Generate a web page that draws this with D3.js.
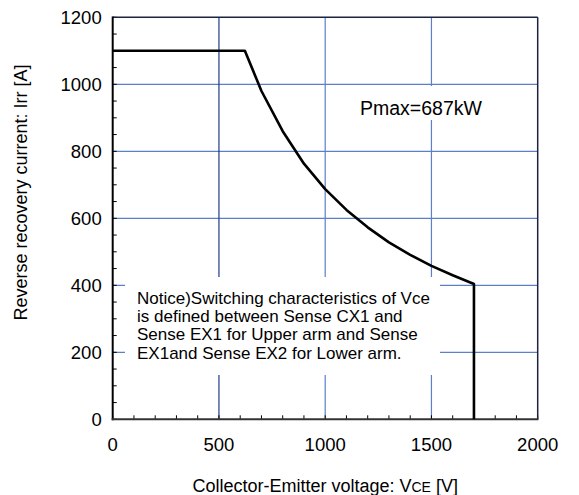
<!DOCTYPE html>
<html><head><meta charset="utf-8">
<script src="https://cdn.jsdelivr.net/npm/d3@7"></script>
<style>body{margin:0;background:#fff}svg{display:block;font-family:"Liberation Sans",Arial,sans-serif}</style>
</head><body><svg id="c" width="579" height="495"></svg>
<script>
const voltage = [0, 622, 700, 800, 900, 1000, 1100, 1200, 1300, 1400, 1500, 1600, 1700, 1700];
const current = [1100, 1100, 980, 860, 763, 687, 625, 573, 528, 491, 458, 430, 404, 0];
const xTicks = [0, 500, 1000, 1500, 2000];
const yTicks = [0, 200, 400, 600, 800, 1000, 1200];
const xMinor = d3.range(0, 2001, 100);
const yMinor = d3.range(0, 1201, 50);
const pmaxLabel = "Pmax=687kW";
const noticeLines = ["Notice)Switching characteristics of Vce","is defined between Sense CX1 and","Sense EX1 for Upper arm and Sense","EX1and Sense EX2 for Lower arm."];

const svg = d3.select("#c");
const L = 112.7, R = 537.7, T = 17.3, B = 419.3;
const x = d3.scaleLinear().domain([0, 2000]).range([L, R]);
const y = d3.scaleLinear().domain([0, 1200]).range([B, T]);

// grid
svg.append("g").selectAll("line").data(yTicks.filter(d => d > 0 && d < 1200)).join("line")
  .attr("x1", L).attr("x2", R).attr("y1", d => y(d)).attr("y2", d => y(d))
  .attr("stroke", "#5b7fc8").attr("stroke-width", 1.2);
svg.append("g").selectAll("line").data(xTicks.filter(d => d > 0 && d < 2000)).join("line")
  .attr("y1", T).attr("y2", B).attr("x1", d => x(d)).attr("x2", d => x(d))
  .attr("stroke", d => d === 500 ? "#1f3a8c" : "#5b7fc8").attr("stroke-width", 1.2);

// white label boxes
svg.append("rect").attr("x", 125).attr("y", 277).attr("width", 315).attr("height", 98).attr("fill", "#fff");
svg.append("rect").attr("x", 355).attr("y", 86).attr("width", 135).attr("height", 34).attr("fill", "#fff");

// minor ticks
svg.append("g").selectAll("line").data(yMinor).join("line")
  .attr("x1", L).attr("x2", L + 4).attr("y1", d => y(d)).attr("y2", d => y(d))
  .attr("stroke", "#000").attr("stroke-width", 1);
svg.append("g").selectAll("line").data(xMinor).join("line")
  .attr("y1", B).attr("y2", B - 4).attr("x1", d => x(d)).attr("x2", d => x(d))
  .attr("stroke", "#000").attr("stroke-width", 1);

// frame
svg.append("line").attr("x1", L).attr("x2", R).attr("y1", T).attr("y2", T).attr("stroke", "#1c2340").attr("stroke-width", 1.5);
svg.append("line").attr("x1", R).attr("x2", R).attr("y1", T).attr("y2", B).attr("stroke", "#1c2340").attr("stroke-width", 1.5);
svg.append("line").attr("x1", L).attr("x2", L).attr("y1", T - 0.7).attr("y2", B + 1).attr("stroke", "#000").attr("stroke-width", 2);
svg.append("line").attr("x1", L - 1).attr("x2", R + 0.7).attr("y1", B).attr("y2", B).attr("stroke", "#333").attr("stroke-width", 2);

// tick labels
svg.append("g").selectAll("text").data(yTicks).join("text")
  .attr("x", L - 11).attr("y", d => y(d)).attr("dy", "0.35em").attr("text-anchor", "end")
  .attr("font-size", 18.5).attr("fill", "#000").text(d => d);
svg.append("g").selectAll("text").data(xTicks).join("text")
  .attr("x", d => x(d)).attr("y", 451).attr("text-anchor", "middle")
  .attr("font-size", 18.5).attr("fill", "#000").text(d => d);

// curve
const pts = voltage.map((v, i) => [v, current[i]]);
svg.append("path").datum(pts)
  .attr("d", d3.line().x(d => x(d[0])).y(d => y(d[1])))
  .attr("fill", "none").attr("stroke", "#000").attr("stroke-width", 2.6).attr("stroke-linejoin", "round");

// annotations
svg.append("text").attr("x", 360).attr("y", 114.5).attr("font-size", 19.5).attr("fill", "#000").text(pmaxLabel);
svg.append("g").selectAll("text").data(noticeLines).join("text")
  .attr("x", 137).attr("y", (d, i) => 303.5 + i * 18.4).attr("font-size", 17).attr("fill", "#000").text(d => d);

// axis titles
const xt = svg.append("text").attr("x", (L + R) / 2).attr("y", 492).attr("text-anchor", "middle").attr("font-size", 18).attr("fill", "#000");
xt.append("tspan").text("Collector-Emitter voltage: V");
xt.append("tspan").attr("font-size", 14).text("CE");
xt.append("tspan").text(" [V]");
svg.append("text").attr("transform", "translate(27,192.5) rotate(-90)").attr("text-anchor", "middle")
  .attr("font-size", 18).attr("fill", "#000").text("Reverse recovery current: Irr [A]");
</script></body></html>
